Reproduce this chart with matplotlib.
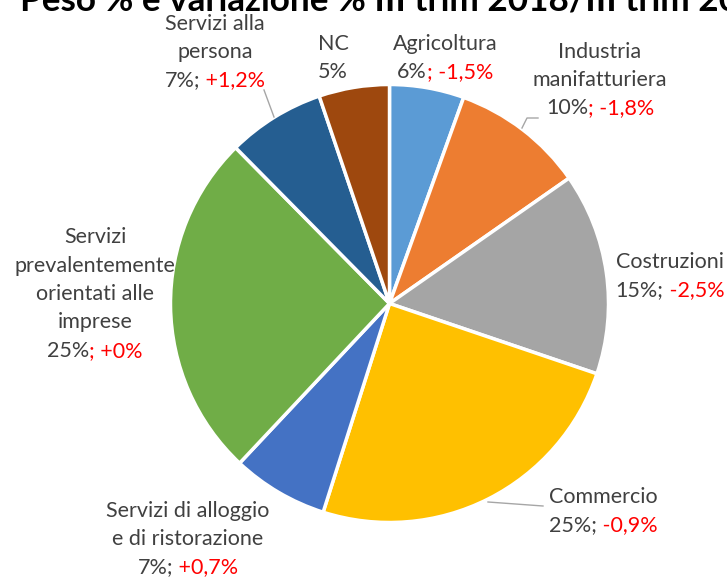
import matplotlib
matplotlib.use("Agg")
import matplotlib.pyplot as plt
from matplotlib.offsetbox import TextArea, HPacker, VPacker, AnnotationBbox

W, H = 727, 579

categories = ["Agricoltura", "Industria\nmanifatturiera", "Costruzioni", "Commercio",
              "Servizi di alloggio\ne di ristorazione",
              "Servizi\nprevalentemente\norientati alle\nimprese",
              "Servizi alla\npersona", "NC"]
shares = [5.5, 9.8, 14.9, 24.7, 7.1, 25.6, 7.2, 5.2]
pct_labels = ["6%", "10%", "15%", "25%", "7%", "25%", "7%", "5%"]
delta_labels = ["-1,5%", "-1,8%", "-2,5%", "-0,9%", "+0,7%", "+0%", "+1,2%", ""]
red_semicolon = [True, True, False, False, False, True, False, False]
colors = ["#5B9BD5", "#ED7D31", "#A5A5A5", "#FFC000", "#4472C4", "#70AD47", "#255E91", "#9E480E"]

# label block centres, pixels from top-left
label_pos = [(445, 58), (600, 80), (670, 276), (603, 511), (188, 539), (95, 294), (215, 52), (333, 58)]
# leader lines, pixels from top-left
leaders = [[(522, 128), (527, 118), (538, 118)],
           [(488, 502), (543, 506)],
           [(264, 90), (274, 117)]]

dark = "#404040"
red = "#FF0000"
font = "Lato"
fs = 15.5

fig = plt.figure(figsize=(W / 100, H / 100), dpi=100)
ax = fig.add_axes([0, 0, 1, 1])
ax.axis("off")

def px(x, y):
    return x, H - y

ax.pie(shares, colors=colors, startangle=90, counterclock=False,
       center=px(389.5, 303.5), radius=219,
       wedgeprops=dict(edgecolor="white", linewidth=2.5))
ax.set_xlim(0, W)
ax.set_ylim(0, H)
ax.set_aspect("equal")

for i, cat in enumerate(categories):
    props = dict(color=dark, fontfamily=font, fontsize=fs)
    rows = [TextArea(line, textprops=props) for line in cat.split("\n")]
    if delta_labels[i]:
        if red_semicolon[i]:
            first, second = pct_labels[i], "; " + delta_labels[i]
        else:
            first, second = pct_labels[i] + ";", " " + delta_labels[i]
        last = HPacker(children=[TextArea(first, textprops=props),
                                 TextArea(second, textprops=dict(props, color=red))],
                       pad=0, sep=0, align="baseline")
    else:
        last = TextArea(pct_labels[i], textprops=props)
    rows.append(last)
    box = VPacker(children=rows, pad=0, sep=6, align="center")
    ab = AnnotationBbox(box, px(*label_pos[i]), frameon=False, box_alignment=(0.5, 0.5), pad=0)
    ax.add_artist(ab)

for pts in leaders:
    xs = [p[0] for p in pts]
    ys = [H - p[1] for p in pts]
    ax.plot(xs, ys, color="#A6A6A6", lw=1)

# title is clipped at the top in the original
fig.text(20 / W, 1 - 11 / H, "Peso % e variazione % III trim 2018/III trim 2017",
         fontfamily=font, fontweight="bold", fontsize=25.3, va="baseline", ha="left", color="black")

fig.savefig("out.png", dpi=100)
